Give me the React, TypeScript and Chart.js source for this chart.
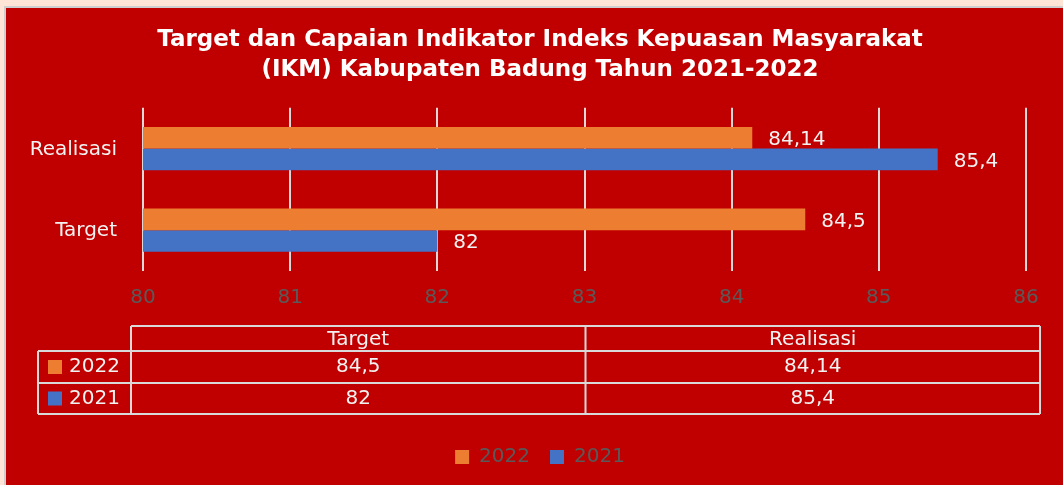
import { useEffect, useRef } from 'react';
import { Chart, registerables } from 'chart.js';

Chart.register(...registerables);

const titleLines = [
  'Target dan Capaian Indikator Indeks Kepuasan Masyarakat',
  '(IKM) Kabupaten Badung Tahun 2021-2022',
];
const categories = ['Realisasi', 'Target'];
const seriesNames = ['2022', '2021'];
const values2022 = [84.14, 84.5];
const values2021 = [85.4, 82];
const seriesColors = ['#ED7D31', '#4472C4'];
const tableColumns = ['Target', 'Realisasi'];
const axisMin = 80;
const axisMax = 86;
const axisStep = 1;

const FONT = '"DejaVu Sans", "Open Sans", sans-serif';
const GRID = '#D9D9D9';
const TEXT_LIGHT = '#F2F2F2';
const TEXT_GRAY = '#595959';

const fmt = (v: number) => String(v).replace('.', ',');

const categoryLabelPlugin = {
  id: 'categoryLabels',
  afterDraw(chart: any) {
    const { ctx, chartArea } = chart;
    const yScale = chart.scales.y;
    ctx.save();
    ctx.font = `20px ${FONT}`;
    ctx.fillStyle = TEXT_LIGHT;
    ctx.textAlign = 'right';
    ctx.textBaseline = 'middle';
    chart.data.labels.forEach((lab: string, i: number) => {
      ctx.fillText(lab, chartArea.left - 26, yScale.getPixelForValue(i) + 1);
    });
    ctx.restore();
  },
};

const valueLabelPlugin = {
  id: 'valueLabels',
  afterDatasetsDraw(chart: any) {
    const { ctx } = chart;
    ctx.save();
    ctx.font = `20px ${FONT}`;
    ctx.fillStyle = TEXT_LIGHT;
    ctx.textAlign = 'left';
    ctx.textBaseline = 'middle';
    chart.data.datasets.forEach((ds: any, di: number) => {
      const meta = chart.getDatasetMeta(di);
      meta.data.forEach((bar: any, i: number) => {
        ctx.fillText(fmt(ds.data[i]), bar.x + 16, bar.y + 2);
      });
    });
    ctx.restore();
  },
};

const dataTablePlugin = {
  id: 'dataTable',
  afterDraw(chart: any) {
    const { ctx, chartArea } = chart;
    const left = chartArea.left - 12;
    const right = chartArea.right + 14;
    const keyLeft = left - 93;
    const mid = (left + right) / 2;
    const top = chartArea.bottom + 55;
    const y1 = top + 25;
    const y2 = y1 + 32;
    const y3 = y2 + 31;
    ctx.save();
    ctx.strokeStyle = GRID;
    ctx.lineWidth = 2;
    ctx.beginPath();
    ctx.moveTo(left, top); ctx.lineTo(right, top);
    [y1, y2, y3].forEach((y) => { ctx.moveTo(keyLeft, y); ctx.lineTo(right, y); });
    ctx.moveTo(keyLeft, y1); ctx.lineTo(keyLeft, y3);
    [left, mid, right].forEach((x) => { ctx.moveTo(x, top); ctx.lineTo(x, y3); });
    ctx.stroke();

    ctx.font = `20px ${FONT}`;
    ctx.fillStyle = TEXT_LIGHT;
    ctx.textBaseline = 'middle';
    ctx.textAlign = 'center';
    const colCenters = [(left + mid) / 2, (mid + right) / 2];
    tableColumns.forEach((c, i) => ctx.fillText(c, colCenters[i], (top + y1) / 2 + 1));
    const rows = [
      { name: seriesNames[0], color: seriesColors[0], vals: values2022, y: (y1 + y2) / 2 },
      { name: seriesNames[1], color: seriesColors[1], vals: values2021, y: (y2 + y3) / 2 },
    ];
    rows.forEach((r) => {
      tableColumns.forEach((c, i) => {
        const v = r.vals[categories.indexOf(c)];
        ctx.textAlign = 'center';
        ctx.fillStyle = TEXT_LIGHT;
        ctx.fillText(fmt(v), colCenters[i], r.y);
      });
      ctx.fillStyle = r.color;
      ctx.fillRect(keyLeft + 10, r.y - 7, 14, 14);
      ctx.fillStyle = TEXT_LIGHT;
      ctx.textAlign = 'left';
      ctx.fillText(r.name, keyLeft + 31, r.y);
    });
    ctx.restore();
  },
};

export default function App() {
  const ref = useRef<HTMLCanvasElement | null>(null);

  useEffect(() => {
    document.body.style.margin = '0';
    if (!ref.current) return;
    const chart = new Chart(ref.current, {
      type: 'bar',
      data: {
        labels: categories,
        datasets: [
          { label: seriesNames[0], data: values2022, backgroundColor: seriesColors[0] },
          { label: seriesNames[1], data: values2021, backgroundColor: seriesColors[1] },
        ],
      },
      options: {
        indexAxis: 'y',
        animation: false,
        responsive: false,
        layout: { padding: { top: 0, right: 37, bottom: 8, left: 48 } },
        datasets: { bar: { barPercentage: 1, categoryPercentage: 0.53 } },
        scales: {
          x: {
            min: axisMin,
            max: axisMax,
            ticks: { stepSize: axisStep, color: TEXT_GRAY, padding: 15, font: { family: FONT, size: 20 } },
            grid: { color: GRID, lineWidth: 2, drawTicks: false },
            border: { display: false },
            afterFit: (scale: any) => { scale.height = 156; },
          },
          y: {
            ticks: { display: false },
            grid: { display: false },
            border: { display: false },
            afterFit: (scale: any) => { scale.width = 89; },
          },
        },
        plugins: {
          title: {
            display: true,
            text: titleLines,
            color: '#FFFFFF',
            font: { family: FONT, size: 23, weight: 'bold', lineHeight: 1.3 },
            padding: { top: 17, bottom: 23 },
          },
          legend: {
            position: 'bottom',
            labels: {
              color: TEXT_GRAY,
              boxWidth: 14,
              boxHeight: 14,
              padding: 20,
              font: { family: FONT, size: 20 },
            },
          },
          tooltip: { enabled: false },
        },
      },
      plugins: [categoryLabelPlugin, valueLabelPlugin, dataTablePlugin],
    });
    return () => chart.destroy();
  }, []);

  return (
    <div style={{ width: 1063, height: 485, background: '#FEE4D7', position: 'relative', overflow: 'hidden' }}>
      <div
        style={{
          position: 'absolute',
          left: 4,
          top: 6,
          width: 1059,
          height: 479,
          boxSizing: 'border-box',
          borderTop: '2px solid #CFCFCF',
          borderLeft: '2px solid #CFCFCF',
          background: '#C00000',
        }}
      >
        <canvas ref={ref} width={1057} height={477} style={{ display: 'block' }} />
      </div>
    </div>
  );
}
